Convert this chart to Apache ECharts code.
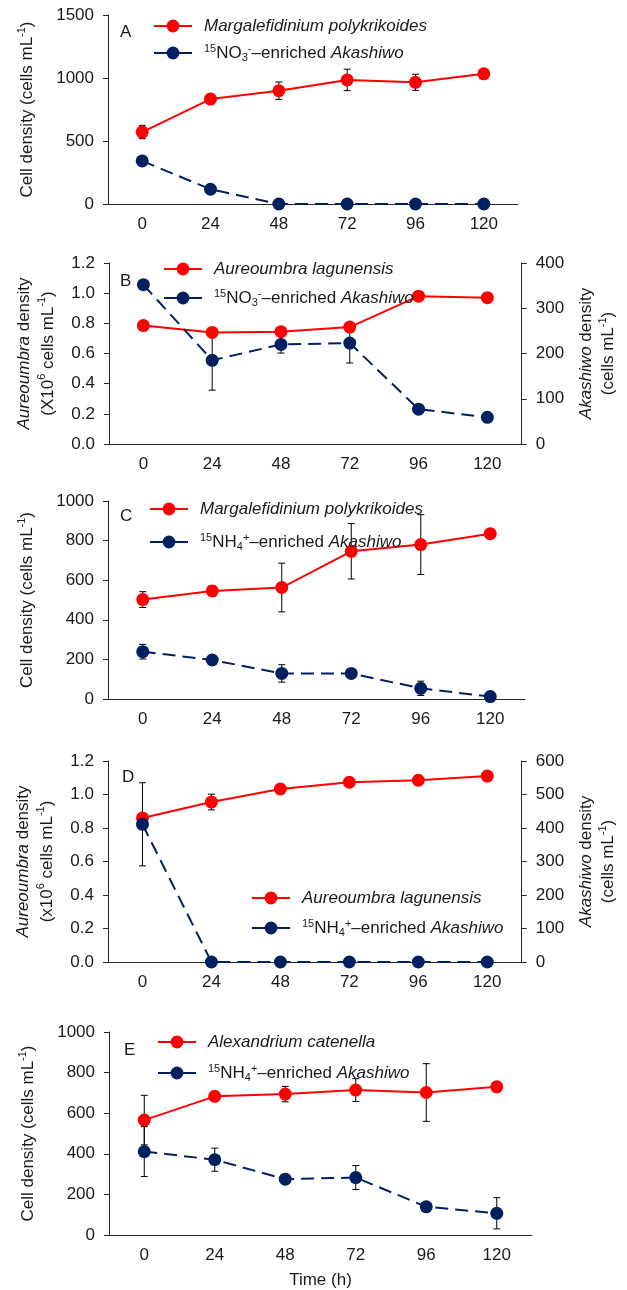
<!DOCTYPE html>
<html>
<head>
<meta charset="utf-8">
<script src="https://cdn.jsdelivr.net/npm/echarts@6/dist/echarts.min.js"></script>
<style>
  html, body { margin: 0; padding: 0; background: #fff; }
  #chart { width: 627px; height: 1290px; }
</style>
</head>
<body>
<div id="chart"></div>
<script>
// ---- data ----
var hours = ['0', '24', '48', '72', '96', '120'];

// A: Margalefidinium + 15NO3 Akashiwo (cells mL-1)
var aRed = [571, 833, 899, 985, 966, 1033];
var aRedErr = [53, 20, 69, 85, 64, 15];
var aBlue = [342, 117, 0, 0, 0, 0];
var aBlueErr = [25, 20, 0, 0, 0, 0];

// B: Aureoumbra (x10^6 cells mL-1) + 15NO3 Akashiwo (cells mL-1)
var bRed = [0.785, 0.74, 0.745, 0.775, 0.98, 0.97];
var bRedErr = [0.01, 0.02, 0.02, 0.01, 0.01, 0.01];
var bBlue = [352, 185, 220, 223, 77, 59];
var bBlueErr = [8, 66, 19, 44, 8, 5];

// C: Margalefidinium + 15NH4 Akashiwo
var cRed = [502, 546, 563, 746, 780, 835];
var cRedErr = [40, 25, 123, 140, 151, 10];
var cBlue = [239, 197, 129, 129, 54, 12];
var cBlueErr = [37, 12, 44, 8, 36, 5];

// D: Aureoumbra + 15NH4 Akashiwo
var dRed = [0.86, 0.955, 1.033, 1.073, 1.085, 1.11];
var dRedErr = [0.02, 0.047, 0.01, 0.01, 0.01, 0.01];
var dBlue = [411, 0, 0, 0, 0, 0];
var dBlueErr = [124, 0, 0, 0, 0, 0];

// E: Alexandrium + 15NH4 Akashiwo
var eRed = [566, 683, 694, 714, 702, 730];
var eRedErr = [122, 10, 38, 56, 142, 10];
var eBlue = [411, 371, 275, 283, 139, 107];
var eBlueErr = [123, 57, 10, 59, 12, 77];

var RED = '#ff0000';
var BLUE = '#002060';
var INK = '#1a1a1a';
var FONT = 'Liberation Sans';
var FS = 17;

var rich = {
  i: { fontStyle: 'italic', fontSize: FS, fontFamily: FONT, color: INK },
  sup: { fontSize: 11, lineHeight: 11, verticalAlign: 'top', fontFamily: FONT, color: INK },
  sub: { fontSize: 11, lineHeight: 11, verticalAlign: 'bottom', fontFamily: FONT, color: INK }
};

var labelText = {
  aRed: '{i|Margalefidinium polykrikoides}',
  aBlue: '{sup|15}NO{sub|3}{sup|-}–enriched {i|Akashiwo}',
  bRed: '{i|Aureoumbra lagunensis}',
  bBlue: '{sup|15}NO{sub|3}{sup|-}–enriched {i|Akashiwo}',
  cRed: '{i|Margalefidinium polykrikoides}',
  cBlue: '{sup|15}NH{sub|4}{sup|+}–enriched {i|Akashiwo}',
  dRed: '{i|Aureoumbra lagunensis}',
  dBlue: '{sup|15}NH{sub|4}{sup|+}–enriched {i|Akashiwo}',
  eRed: '{i|Alexandrium catenella}',
  eBlue: '{sup|15}NH{sub|4}{sup|+}–enriched {i|Akashiwo}'
};

// ---- layout ----
var grids = [
  { left: 108, right: 109, top: 15, height: 189 },
  { left: 109, right: 101, top: 263, height: 181 },
  { left: 108, right: 102, top: 501, height: 198 },
  { left: 108, right: 101, top: 761, height: 201 },
  { left: 109, right: 95, top: 1032, height: 210 }
];

var axisLine = { show: true, lineStyle: { color: '#262626', width: 1 } };
var axisLabel = { color: INK, fontSize: FS, fontFamily: FONT };

function xAxisFor(i, extra) {
  var ax = {
    type: 'category',
    gridIndex: i,
    data: hours,
    boundaryGap: true,
    axisLine: axisLine,
    axisTick: { show: false },
    axisLabel: Object.assign({ margin: 12 }, axisLabel),
    splitLine: { show: false }
  };
  return Object.assign(ax, extra || {});
}

var plain = function (v) { return String(v); };
var oneDec = function (v) { return v.toFixed(1); };

function yAxisFor(i, min, max, interval, pos, extra) {
  var ax = {
    type: 'value',
    gridIndex: i,
    position: pos,
    min: min,
    max: max,
    interval: interval,
    axisLine: axisLine,
    axisTick: { show: true, length: 5, lineStyle: { color: '#262626' } },
    axisLabel: Object.assign({ margin: 14, formatter: plain }, axisLabel),
    splitLine: { show: false },
    nameLocation: 'middle',
    nameRotate: 90,
    nameTextStyle: { fontSize: FS, fontFamily: FONT, color: INK, lineHeight: 22, rich: rich }
  };
  return Object.assign(ax, extra || {});
}

function twoLineName(lh) {
  return { fontSize: FS, fontFamily: FONT, color: INK, lineHeight: lh, rich: rich };
}

var xAxes = [
  xAxisFor(0), xAxisFor(1), xAxisFor(2), xAxisFor(3),
  xAxisFor(4, { name: 'Time (h)', nameLocation: 'middle', nameGap: 37,
    nameTextStyle: { fontSize: FS, fontFamily: FONT, color: INK } })
];

var yAxes = [
  yAxisFor(0, 0, 1500, 500, 'left', { name: 'Cell density (cells mL{sup|-1})', nameGap: 70 }),
  yAxisFor(1, 0, 1.2, 0.2, 'left', { name: '{i|Aureoumbra} density\n(X10{sup|6} cells mL{sup|-1})', nameGap: 47,
    nameTextStyle: twoLineName(24),
    axisLabel: Object.assign({ margin: 14, formatter: oneDec }, axisLabel) }),
  yAxisFor(1, 0, 400, 100, 'right', { name: '{i|Akashiwo} density\n(cells mL{sup|-1})', nameGap: 53,
    nameTextStyle: twoLineName(22) }),
  yAxisFor(2, 0, 1000, 200, 'left', { name: 'Cell density (cells mL{sup|-1})', nameGap: 70 }),
  yAxisFor(3, 0, 1.2, 0.2, 'left', { name: '{i|Aureoumbra} density\n(x10{sup|6} cells mL{sup|-1})', nameGap: 47,
    nameTextStyle: twoLineName(24),
    axisLabel: Object.assign({ margin: 14, formatter: oneDec }, axisLabel) }),
  yAxisFor(3, 0, 600, 100, 'right', { name: '{i|Akashiwo} density\n(cells mL{sup|-1})', nameGap: 53,
    nameTextStyle: twoLineName(22) }),
  yAxisFor(4, 0, 1000, 200, 'left', { name: 'Cell density (cells mL{sup|-1})', nameGap: 70 })
];

function lineSeries(name, data, xi, yi, color, dashed) {
  return {
    name: name,
    type: 'line',
    xAxisIndex: xi,
    yAxisIndex: yi,
    data: data,
    symbol: 'circle',
    symbolSize: 13,
    showSymbol: true,
    color: color,
    itemStyle: { color: color },
    lineStyle: { color: color, width: 2, type: dashed ? [13, 7] : 'solid' },
    z: 3,
    silent: true
  };
}

// error bars drawn through the axes with a custom series
function errSeries(data, err, xi, yi) {
  return {
    type: 'custom',
    xAxisIndex: xi,
    yAxisIndex: yi,
    z: 2,
    silent: true,
    data: data.map(function (v, i) { return [i, v, err[i]]; }),
    renderItem: function (params, api) {
      var e = api.value(2);
      if (!e) return null;
      var idx = api.value(0), v = api.value(1);
      var top = api.coord([idx, v + e]);
      var bot = api.coord([idx, v - e]);
      var cap = 3.5;
      var style = { stroke: '#000', lineWidth: 1 };
      return {
        type: 'group',
        children: [
          { type: 'line', shape: { x1: top[0], y1: top[1], x2: bot[0], y2: bot[1] }, style: style },
          { type: 'line', shape: { x1: top[0] - cap, y1: top[1], x2: top[0] + cap, y2: top[1] }, style: style },
          { type: 'line', shape: { x1: bot[0] - cap, y1: bot[1], x2: bot[0] + cap, y2: bot[1] }, style: style }
        ]
      };
    }
  };
}

var series = [
  errSeries(aRed, aRedErr, 0, 0), errSeries(aBlue, aBlueErr, 0, 0),
  lineSeries('aRed', aRed, 0, 0, RED, false), lineSeries('aBlue', aBlue, 0, 0, BLUE, true),

  errSeries(bRed, bRedErr, 1, 1), errSeries(bBlue, bBlueErr, 1, 2),
  lineSeries('bRed', bRed, 1, 1, RED, false), lineSeries('bBlue', bBlue, 1, 2, BLUE, true),

  errSeries(cRed, cRedErr, 2, 3), errSeries(cBlue, cBlueErr, 2, 3),
  lineSeries('cRed', cRed, 2, 3, RED, false), lineSeries('cBlue', cBlue, 2, 3, BLUE, true),

  errSeries(dRed, dRedErr, 3, 4), errSeries(dBlue, dBlueErr, 3, 5),
  lineSeries('dRed', dRed, 3, 4, RED, false), lineSeries('dBlue', dBlue, 3, 5, BLUE, true),

  errSeries(eRed, eRedErr, 4, 6), errSeries(eBlue, eBlueErr, 4, 6),
  lineSeries('eRed', eRed, 4, 6, RED, false), lineSeries('eBlue', eBlue, 4, 6, BLUE, true)
];

function legendFor(names, left, top, gap) {
  return {
    data: names,
    orient: 'vertical',
    left: left,
    top: top,
    padding: 0,
    itemGap: gap,
    itemWidth: 38,
    itemHeight: 16,
    selectedMode: false,
    lineStyle: { type: 'solid', width: 2 },
    formatter: function (name) { return labelText[name]; },
    textStyle: { fontSize: FS, fontFamily: FONT, color: INK, lineHeight: 20, padding: [0, 0, 0, 7], rich: rich }
  };
}

var legends = [
  legendFor(['aRed', 'aBlue'], 153, 16, 7),
  legendFor(['bRed', 'bBlue'], 163, 259, 9),
  legendFor(['cRed', 'cBlue'], 149, 499, 13),
  legendFor(['dRed', 'dBlue'], 251, 888, 10),
  legendFor(['eRed', 'eBlue'], 157, 1032, 11)
];

function letter(t, left, top) {
  return { text: t, left: left, top: top, padding: 0,
    textStyle: { fontSize: FS, fontWeight: 'normal', fontFamily: FONT, color: INK } };
}

var option = {
  animation: false,
  backgroundColor: '#fff',
  textStyle: { fontFamily: FONT },
  title: [
    letter('A', 120, 24), letter('B', 120, 273), letter('C', 120, 508),
    letter('D', 122, 769), letter('E', 124, 1042)
  ],
  legend: legends,
  grid: grids,
  xAxis: xAxes,
  yAxis: yAxes,
  series: series
};

var myChart = echarts.init(document.getElementById('chart'), null, { renderer: 'canvas' });
option && myChart.setOption(option);
</script>
</body>
</html>
